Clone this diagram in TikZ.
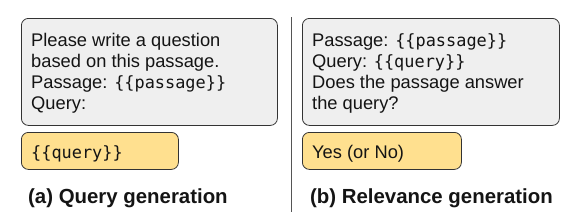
\documentclass[tikz,border=0pt]{standalone}
\usepackage{fontspec}
\setmainfont{Liberation Sans}
\setmonofont{DejaVu Sans Mono}
\definecolor{boxgray}{HTML}{EFEFEF}
\definecolor{boxyellow}{HTML}{FFE08F}
\definecolor{edgec}{HTML}{333333}
\definecolor{divc}{HTML}{555555}
\definecolor{ink}{HTML}{141414}
\newcommand\monotxt[1]{{\fontsize{16.9}{21}\selectfont\ttfamily #1}}
\begin{document}
\begin{tikzpicture}[x=1pt,y=-1pt,
  prompt/.style={draw=edgec, line width=0.8pt, fill=boxgray, rounded corners=7pt, anchor=north west, inner sep=0pt},
  answer/.style={draw=edgec, line width=0.8pt, fill=boxyellow, rounded corners=7pt, anchor=north west, inner sep=0pt},
  txt/.style={anchor=base west, inner sep=0pt, text=ink, font=\fontsize{18.3}{21}\selectfont},
  captxt/.style={anchor=base west, inner sep=0pt, text=ink, font=\fontsize{20.4}{24}\selectfont\bfseries},
  divider/.style={draw=divc, line width=0.9pt}]
\useasboundingbox (0,0) rectangle (578,217);
% left panel
\node[prompt, minimum width=256pt, minimum height=107pt] (pa) at (21,18) {};
\node[txt] (a1) at (31,46.5) {Please write a question};
\node[txt] (a2) at (31,67.5) {based on this passage.};
\node[txt] (a3) at (31,88.5) {Passage: \monotxt{\{\{passage\}\}}};
\node[txt] (a4) at (31,109.5) {Query:};
\node[answer, minimum width=157pt, minimum height=37pt] (ya) at (21,132) {};
\node[txt] (ay) at (31,158) {\monotxt{\{\{query\}\}}};
\node[captxt] (ca) at (28,203) {(a) Query generation};
% divider
\coordinate (d1) at (291,17);
\coordinate (d2) at (291,212);
\draw[divider] (d1) -- (d2);
% right panel
\node[prompt, minimum width=257pt, minimum height=107pt] (pb) at (302,18) {};
\node[txt] (b1) at (312,46.5) {Passage: \monotxt{\{\{passage\}\}}};
\node[txt] (b2) at (312,67.5) {Query: \monotxt{\{\{query\}\}}};
\node[txt] (b3) at (312,88.5) {Does the passage answer};
\node[txt] (b4) at (312,109.5) {the query?};
\node[answer, minimum width=159pt, minimum height=37pt] (yb) at (302,132) {};
\node[txt] (by) at (312,158) {Yes (or No)};
\node[captxt] (cb) at (310,203) {(b) Relevance generation};
\end{tikzpicture}
\end{document}
